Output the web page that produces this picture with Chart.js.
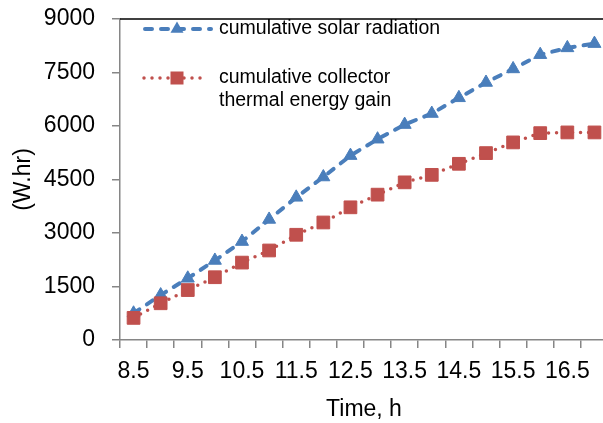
<!DOCTYPE html>
<html>
<head>
<meta charset="utf-8">
<script src="https://cdn.jsdelivr.net/npm/chart.js@4/dist/chart.umd.min.js"></script>
<style>
html,body{margin:0;padding:0;background:#fff;overflow:hidden;}
#wrap{width:612px;height:423px;}
</style>
</head>
<body>
<div id="wrap"><canvas id="c" width="612" height="423"></canvas></div>
<script>
const timeLabels = ['8.5','9','9.5','10','10.5','11','11.5','12','12.5','13','13.5','14','14.5','15','15.5','16','16.5','17'];
const solarRadiation = [750,1260,1730,2230,2760,3380,4000,4570,5170,5630,6040,6350,6790,7220,7600,8000,8190,8310];
const collectorGain = [620,1030,1400,1760,2170,2510,2950,3295,3720,4075,4420,4630,4940,5240,5540,5800,5820,5820];
const seriesNames = ['cumulative solar radiation', ['cumulative collector','thermal energy gain']];
const yMin = 0, yMax = 9000, yStep = 1500;

const BLUE = '#4A7EBB';
const RED = '#C0504D';
const FONT = "'Liberation Sans', Arial, sans-serif";

const extras = {
  id: 'extras',
  afterDraw(chart) {
    const ctx = chart.ctx;
    const a = chart.chartArea;
    ctx.save();
    // top border
    ctx.strokeStyle = '#000';
    ctx.lineWidth = 1.5;
    ctx.beginPath();
    ctx.moveTo(a.left, a.top);
    ctx.lineTo(a.right, a.top);
    ctx.stroke();
    // legend
    ctx.font = '19.5px ' + FONT;
    ctx.textBaseline = 'middle';
    ctx.textAlign = 'left';
    // entry 1
    ctx.strokeStyle = BLUE;
    ctx.lineWidth = 4;
    ctx.lineCap = 'round';
    ctx.setLineDash([7, 9]);
    ctx.beginPath();
    ctx.moveTo(145, 29); ctx.lineTo(211, 29);
    ctx.stroke();
    ctx.setLineDash([]);
    ctx.fillStyle = BLUE;
    ctx.beginPath();
    ctx.moveTo(177, 29 - 7.5); ctx.lineTo(177 + 6.5, 29 + 3.75); ctx.lineTo(177 - 6.5, 29 + 3.75); ctx.closePath();
    ctx.fill();
    ctx.fillStyle = '#000';
    ctx.fillText(seriesNames[0], 219, 29);
    // entry 2
    ctx.strokeStyle = RED;
    ctx.lineWidth = 3.5;
    ctx.setLineDash([0, 8]);
    ctx.beginPath();
    ctx.moveTo(144, 78); ctx.lineTo(206, 78);
    ctx.stroke();
    ctx.setLineDash([]);
    ctx.fillStyle = RED;
    ctx.fillRect(177 - 6.5, 78 - 6.5, 13, 13);
    ctx.fillStyle = '#000';
    ctx.fillText(seriesNames[1][0], 219, 78);
    ctx.fillText(seriesNames[1][1], 219, 101);
    ctx.restore();
  }
};

new Chart(document.getElementById('c'), {
  type: 'line',
  data: {
    labels: timeLabels,
    datasets: [
      {
        label: seriesNames[0],
        data: solarRadiation,
        borderColor: BLUE,
        backgroundColor: BLUE,
        borderWidth: 4,
        borderDash: [7, 9],
        borderCapStyle: 'round',
        tension: 0,
        pointStyle: 'triangle',
        pointRadius: 7.5,
        pointBorderWidth: 1,
        pointBackgroundColor: BLUE,
        pointBorderColor: BLUE,
        clip: false,
        order: 2
      },
      {
        label: seriesNames[1].join(' '),
        data: collectorGain,
        borderColor: RED,
        backgroundColor: RED,
        borderWidth: 3.5,
        borderDash: [0, 8],
        borderCapStyle: 'round',
        tension: 0,
        pointStyle: 'rect',
        pointRadius: 9,
        pointBorderWidth: 1,
        pointBackgroundColor: RED,
        pointBorderColor: RED,
        clip: false,
        order: 1
      }
    ]
  },
  options: {
    responsive: false,
    animation: false,
    devicePixelRatio: 1,
    layout: { autoPadding: false, padding: { top: 19, right: 4, left: 0, bottom: 0 } },
    plugins: { legend: { display: false }, tooltip: { enabled: false } },
    scales: {
      x: {
        type: 'category',
        offset: true,
        grid: { offset: true, drawOnChartArea: false, drawTicks: true, tickLength: 8, color: '#868686', lineWidth: 1.5 },
        border: { color: '#868686', width: 1.5 },
        ticks: {
          autoSkip: false,
          maxRotation: 0,
          minRotation: 0,
          padding: 10,
          color: '#000',
          font: { family: FONT, size: 23 },
          callback: function(v, i) { return i % 2 === 0 ? this.getLabelForValue(v) : ''; }
        },
        title: { display: true, text: 'Time, h', color: '#000', font: { family: FONT, size: 23 }, padding: { top: 0, bottom: 0 } },
        afterFit: (s) => { s.height = 83; s.paddingLeft = 0; s.paddingRight = 0; s.paddingTop = 0; s.paddingBottom = 0; }
      },
      y: {
        min: yMin, max: yMax,
        grid: { drawOnChartArea: false, drawTicks: true, tickLength: 8, color: '#868686', lineWidth: 1.5 },
        border: { color: '#868686', width: 1.5 },
        ticks: { stepSize: yStep, padding: 17, color: '#000', font: { family: FONT, size: 23 }, callback: (v) => String(v) },
        title: { display: true, text: '(W.hr)', color: '#000', font: { family: FONT, size: 23 }, padding: { top: 10, bottom: 0 } },
        afterFit: (s) => { s.width = 120; s.paddingLeft = 0; s.paddingRight = 0; s.paddingTop = 0; s.paddingBottom = 0; }
      }
    }
  },
  plugins: [extras]
});
</script>
</body>
</html>
